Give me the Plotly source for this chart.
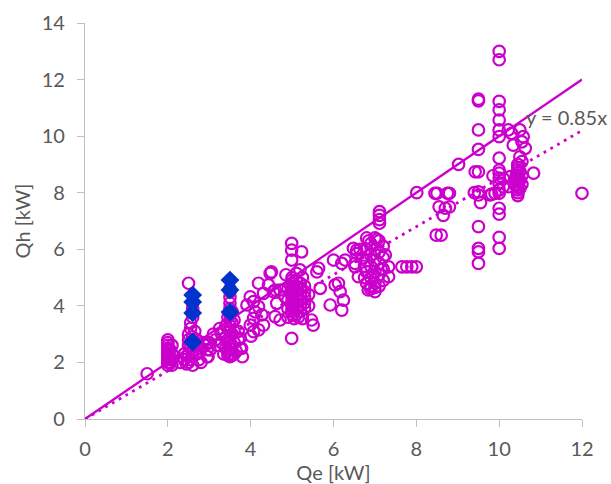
import plotly.graph_objects as go

# ---- data ----
circle_points = [
    # low cluster
    (1.5, 1.6),
    (2.0, 1.9), (2.0, 2.0), (2.0, 2.1), (2.0, 2.2), (2.0, 2.3), (2.0, 2.4), (2.0, 2.5),
    (2.0, 2.6), (2.0, 2.7), (2.0, 2.8), (2.05, 2.0), (2.05, 2.2), (2.05, 2.45), (2.1, 1.9),
    (2.1, 2.1), (2.1, 2.3), (2.1, 2.6), (2.0, 2.15),
    (2.5, 4.8), (2.55, 3.4), (2.55, 3.2), (2.5, 3.0), (2.6, 2.9), (2.5, 2.8), (2.6, 2.7),
    (2.5, 2.6), (2.55, 2.5), (2.6, 2.4), (2.5, 2.3), (2.6, 2.2), (2.55, 2.1), (2.5, 2.0),
    (2.6, 1.9), (2.4, 2.3), (2.4, 2.1), (2.45, 1.95), (2.7, 2.6), (2.7, 2.3), (2.75, 2.1),
    (2.7, 2.8), (2.8, 2.5), (2.85, 2.7), (2.9, 2.6), (2.95, 2.45), (2.95, 2.2), (3.0, 2.7),
    (2.3, 2.0), (2.65, 3.1), (2.6, 3.6), (2.6, 4.1), (2.6, 3.9), (2.6, 2.75), (2.8, 2.0),
    # 3.5 cluster
    (3.5, 4.5), (3.5, 4.3), (3.5, 4.1), (3.5, 3.9), (3.5, 3.7), (3.5, 3.5), (3.5, 3.3),
    (3.5, 3.1), (3.5, 2.9), (3.5, 2.7), (3.5, 2.5), (3.5, 2.3), (3.5, 2.2), (3.45, 2.4),
    (3.45, 2.8), (3.45, 3.2), (3.45, 3.6), (3.55, 2.6), (3.55, 3.0), (3.55, 3.4), (3.55, 3.8),
    (3.4, 2.5), (3.4, 2.9), (3.4, 3.3), (3.6, 2.3), (3.6, 2.7), (3.6, 3.1), (3.6, 3.5),
    (3.3, 2.7), (3.3, 3.0), (3.25, 3.2), (3.2, 2.6), (3.1, 3.0), (3.15, 2.8), (3.7, 2.8),
    (3.75, 2.5), (3.8, 2.2), (3.7, 3.1), (3.65, 2.4), (3.35, 2.3), (3.45, 2.25), (3.55, 2.25),
    (3.5, 4.6), (3.74, 2.85), (3.78, 2.5), (2.94, 2.68), (3.02, 2.44), (2.97, 2.2),
    # 4-5 scatter
    (4.47, 5.15), (4.19, 4.8), (4.43, 4.74), (4.55, 4.5), (4.31, 4.44), (4.71, 4.56),
    (4.83, 4.32), (3.99, 4.32), (4.07, 4.15), (3.91, 4.03), (4.19, 3.97), (4.11, 3.79),
    (4.27, 3.68), (4.07, 3.56), (3.99, 3.32), (4.31, 3.32), (4.19, 3.15), (4.07, 3.09),
    (4.01, 2.93), (4.59, 4.56), (4.63, 4.09), (4.59, 3.62), (4.71, 3.5), (4.5, 5.2),
    # 5 cluster
    (4.99, 6.21), (4.99, 5.97), (5.23, 5.91), (4.99, 5.62), (5.19, 5.27), (5.0, 5.0),
    (5.0, 4.9), (5.0, 4.8), (5.0, 4.7), (5.0, 4.6), (5.0, 4.5), (5.0, 4.4), (5.0, 4.3),
    (5.0, 4.2), (5.0, 4.1), (5.0, 4.0), (5.0, 3.9), (5.0, 3.8), (5.0, 3.7), (5.1, 4.9),
    (5.1, 4.7), (5.1, 4.5), (5.1, 4.3), (5.1, 4.1), (5.1, 3.9), (5.1, 3.7), (5.2, 4.8),
    (5.2, 4.6), (5.2, 4.4), (5.2, 4.2), (5.2, 4.0), (5.2, 3.8), (5.3, 4.7), (5.3, 4.5),
    (5.3, 4.3), (5.3, 4.1), (5.3, 3.9), (4.9, 4.6), (4.9, 4.2), (4.9, 3.9), (4.9, 3.6),
    (5.05, 3.55), (5.15, 3.6), (5.25, 3.55), (4.99, 2.85), (5.47, 3.5), (5.51, 3.32),
    (5.4, 4.4), (5.4, 4.0), (4.85, 5.1), (5.1, 5.15), (5.25, 5.0),
    # 5.6-6.6 scatter
    (5.64, 5.33), (5.6, 5.2), (6.0, 5.62), (6.2, 5.5), (6.48, 6.03), (6.56, 5.85),
    (6.52, 5.5), (6.6, 5.03), (6.04, 4.74), (6.12, 4.8), (6.16, 4.5), (6.24, 4.2),
    (6.2, 3.85), (5.92, 4.03), (5.68, 4.62), (6.28, 5.62), (6.52, 5.38), (6.56, 5.97),
    (6.84, 4.56),
    # 7 cluster
    (6.8, 6.4), (6.8, 6.0), (6.8, 5.6), (6.8, 5.2), (6.8, 4.8), (6.9, 6.2), (6.9, 5.8),
    (6.9, 5.4), (6.9, 5.0), (6.9, 4.6), (7.0, 6.4), (7.0, 6.0), (7.0, 5.6), (7.0, 5.2),
    (7.0, 4.8), (7.0, 4.5), (7.1, 6.3), (7.1, 5.9), (7.1, 5.5), (7.1, 5.1), (7.1, 4.7),
    (7.2, 6.1), (7.2, 5.7), (7.2, 5.3), (7.2, 4.9), (6.75, 5.4), (6.75, 5.0), (6.85, 6.3),
    (7.05, 6.35), (6.95, 5.1), (7.15, 5.3), (7.33, 5.38), (7.33, 5.03), (7.11, 7.33),
    (7.11, 7.2), (7.11, 7.05), (7.11, 6.92), (6.64, 6.0), (6.7, 5.7), (7.25, 5.8),
    (7.0, 4.65), (6.9, 4.7),
    # 7.6-9 scatter
    (7.65, 5.38), (7.77, 5.38), (7.89, 5.38), (8.0, 5.38), (8.01, 8.0),
    (8.48, 6.5), (8.6, 6.5), (8.45, 7.98), (8.5, 7.98), (8.75, 7.98), (8.8, 7.98),
    (8.55, 7.5), (8.7, 7.45), (8.65, 7.2), (8.8, 7.5), (9.02, 9.0),
    # 9.5 column
    (9.5, 11.31), (9.5, 11.25), (9.5, 10.22), (9.5, 9.53), (9.5, 8.74), (9.42, 8.74),
    (9.5, 8.03), (9.4, 8.0), (9.5, 7.92), (9.55, 7.65), (9.5, 6.8), (9.5, 6.03),
    (9.5, 5.91), (9.5, 5.5), (9.78, 7.92), (9.82, 7.95),
    # 10 column
    (10.0, 13.0), (10.0, 12.7), (10.0, 11.23), (10.0, 10.93), (10.0, 10.57), (10.0, 10.22),
    (10.0, 9.98), (10.0, 9.22), (10.0, 8.8), (10.0, 8.69), (10.0, 8.52), (10.0, 8.33),
    (10.0, 8.1), (10.0, 7.98), (10.0, 7.45), (10.0, 7.24), (10.0, 6.42), (10.0, 6.03),
    (9.9, 7.98), (10.1, 8.21), (9.85, 8.6), (10.1, 8.5), (10.22, 10.22), (10.3, 10.1),
    (10.34, 9.68), (10.27, 8.57), (10.22, 8.21),
    # 10.5 cluster
    (10.5, 10.22), (10.58, 9.98), (10.55, 9.8), (10.63, 9.57), (10.5, 9.27), (10.55, 9.1),
    (10.45, 9.0), (10.45, 8.9), (10.45, 8.8), (10.45, 8.7), (10.45, 8.6), (10.45, 8.5),
    (10.45, 8.4), (10.45, 8.3), (10.45, 8.2), (10.45, 8.1), (10.45, 8.0), (10.45, 7.9),
    (10.5, 8.75), (10.5, 8.45), (10.5, 8.15), (10.4, 8.55), (10.4, 8.25), (10.55, 8.6),
    (10.55, 8.3), (10.83, 8.69),
    # outlier
    (12.0, 7.98),
]

diamond_points = [
    (2.6, 4.38), (2.6, 4.14), (2.6, 3.75), (2.6, 2.72),
    (3.5, 4.91), (3.5, 4.56), (3.5, 3.78),
]

line_slopes = [1.0, 0.85]
line_x_range = [0, 12]
fit_label = "y = 0.85x"

x_ticks = [0, 2, 4, 6, 8, 10, 12]
y_ticks = [0, 2, 4, 6, 8, 10, 12, 14]

MAGENTA = "#CC00CC"
BLUE = "#0033CC"
GRAY_TXT = "#595959"
AXIS = "#BFBFBF"
FONT = "Lato, Carlito, Calibri, sans-serif"
FS = 20

fig = go.Figure()

fig.add_trace(go.Scatter(
    x=[p[0] for p in circle_points], y=[p[1] for p in circle_points],
    mode="markers",
    marker=dict(symbol="circle-open", size=11.5, color=MAGENTA, line=dict(width=2.2, color=MAGENTA)),
    showlegend=False, cliponaxis=False,
))

# 1:1 line (solid) and 0.85 line (dotted)
fig.add_trace(go.Scatter(
    x=line_x_range, y=[line_slopes[0] * v for v in line_x_range],
    mode="lines", line=dict(color=MAGENTA, width=2.3), showlegend=False,
))
fig.add_trace(go.Scatter(
    x=line_x_range, y=[line_slopes[1] * v for v in line_x_range],
    mode="lines", line=dict(color=MAGENTA, width=2.8, dash="2.8px,5px"), showlegend=False,
))

fig.add_trace(go.Scatter(
    x=[p[0] for p in diamond_points], y=[p[1] for p in diamond_points],
    mode="markers",
    marker=dict(symbol="diamond", size=14.5, color=BLUE, line=dict(width=0)),
    showlegend=False,
))

fig.add_annotation(
    x=11.62, y=10.67, text=fit_label, showarrow=False,
    font=dict(family=FONT, size=FS, color=GRAY_TXT),
    xanchor="center", yanchor="middle",
)

fig.update_layout(
    width=611, height=484,
    margin=dict(l=85, r=29, t=23, b=65),
    paper_bgcolor="white", plot_bgcolor="white",
    font=dict(family=FONT, size=FS, color=GRAY_TXT),
)
fig.update_xaxes(
    range=[0, 12], tickvals=x_ticks, showgrid=False, zeroline=False,
    showline=True, linecolor=AXIS, linewidth=1.3,
    ticks="outside", ticklen=7, tickcolor=AXIS, tickwidth=1.3,
    tickfont=dict(family=FONT, size=FS, color=GRAY_TXT),
    ticklabelstandoff=5, automargin=False,
    title=dict(text="Qe [kW]", font=dict(family=FONT, size=FS, color=GRAY_TXT), standoff=0),
)
fig.update_yaxes(
    range=[0, 14], tickvals=y_ticks, showgrid=False, zeroline=False,
    showline=True, linecolor=AXIS, linewidth=1.3,
    ticks="outside", ticklen=7, tickcolor=AXIS, tickwidth=1.3,
    tickfont=dict(family=FONT, size=FS, color=GRAY_TXT),
    ticklabelstandoff=8, automargin=False,
    title=dict(text="Qh [kW]", font=dict(family=FONT, size=FS, color=GRAY_TXT), standoff=5),
)

fig.write_html("out.html")
